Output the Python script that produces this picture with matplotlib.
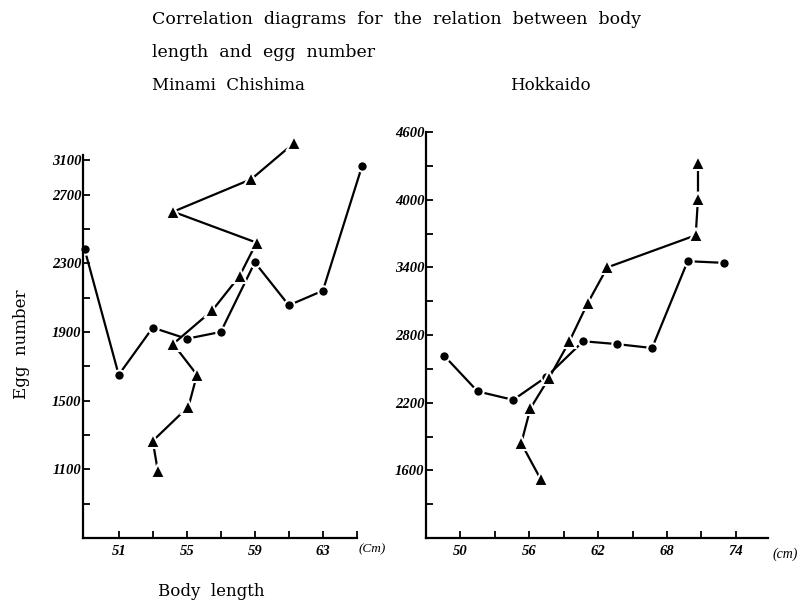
import matplotlib.pyplot as plt
from matplotlib.ticker import FixedLocator

# Minami Chishima (left panel)
mc_circle_len = [49, 51, 53, 55, 57, 59, 61, 63, 65.3]
mc_circle_egg = [2380, 1650, 1925, 1860, 1900, 2305, 2055, 2140, 2865]
mc_tri_len = [61.3, 58.8, 54.2, 59.1, 58.1, 56.5, 54.2, 55.6, 55.1, 53.0, 53.3]
mc_tri_egg = [3000, 2790, 2600, 2420, 2225, 2025, 1830, 1650, 1465, 1265, 1090]

# Hokkaido (right panel)
hk_circle_len = [48.6, 51.5, 54.6, 57.5, 60.7, 63.6, 66.7, 69.8, 73.0]
hk_circle_egg = [2615, 2300, 2225, 2430, 2745, 2720, 2685, 3455, 3440]
hk_tri_len = [57.0, 55.3, 56.1, 57.7, 59.5, 61.1, 62.8, 70.5, 70.7, 70.7]
hk_tri_egg = [1520, 1840, 2150, 2415, 2745, 3085, 3400, 3685, 4010, 4330]

# axis ticks / labels as printed
mc_xticks = [51, 53, 55, 57, 59, 61, 63, 65]
mc_xlabels = ['51', '', '55', '', '59', '', '63', '']
mc_yticks = [900, 1100, 1300, 1500, 1700, 1900, 2100, 2300, 2500, 2700, 2900]
mc_ylabels = ['', '1100', '', '1500', '', '1900', '', '2300', '', '2700', '3100']
hk_xticks = [50, 53, 56, 59, 62, 65, 68, 71, 74]
hk_xlabels = ['50', '', '56', '', '62', '', '68', '', '74']
hk_yticks = [1300, 1600, 1900, 2200, 2500, 2800, 3100, 3400, 3700, 4000, 4300, 4600]
hk_ylabels = ['', '1600', '', '2200', '', '2800', '', '3400', '', '4000', '', '4600']

plt.rcParams['font.family'] = 'DejaVu Serif'

fig = plt.figure(figsize=(8.08, 6.04), dpi=100)
ax1 = fig.add_axes([0.1027, 0.1093, 0.339, 0.634])
ax2 = fig.add_axes([0.5272, 0.1093, 0.4233, 0.672])


def draw(ax, cx, cy, tx, ty):
    ax.plot(cx, cy, color='black', lw=1.6, marker='o', ms=7.5,
            mec='white', mew=1.5, clip_on=False)
    ax.plot(tx, ty, color='black', lw=1.6, marker='^', ms=10,
            mec='white', mew=1.5, clip_on=False)


def style(ax, xt, xl, yt, yl):
    for s in ['top', 'right']:
        ax.spines[s].set_visible(False)
    for s in ['left', 'bottom']:
        ax.spines[s].set_linewidth(1.6)
    ax.xaxis.set_major_locator(FixedLocator(xt))
    ax.set_xticklabels(xl)
    ax.yaxis.set_major_locator(FixedLocator(yt))
    ax.set_yticklabels(yl)
    ax.tick_params(axis='x', direction='in', length=5, width=1.3, pad=5)
    ax.tick_params(axis='y', direction='in', length=5, width=1.3, pad=1)
    for lab in ax.get_xticklabels() + ax.get_yticklabels():
        lab.set_family('Liberation Serif')
        lab.set_fontstyle('italic')
        lab.set_fontweight('bold')
        lab.set_fontsize(10.5)


draw(ax1, mc_circle_len, mc_circle_egg, mc_tri_len, mc_tri_egg)
ax1.set_xlim(48.9, 65)
ax1.set_ylim(700, 2930)
style(ax1, mc_xticks, mc_xlabels, mc_yticks, mc_ylabels)

draw(ax2, hk_circle_len, hk_circle_egg, hk_tri_len, hk_tri_egg)
ax2.set_xlim(47, 76.8)
ax2.set_ylim(1000, 4600)
style(ax2, hk_xticks, hk_xlabels, hk_yticks, hk_ylabels)

fs = 12.5
fig.text(0.1881, 0.968, 'Correlation  diagrams  for  the  relation  between  body',
         fontsize=fs, va='center', ha='left')
fig.text(0.1881, 0.913, 'length  and  egg  number', fontsize=fs, va='center', ha='left')
fig.text(0.1881, 0.858, 'Minami  Chishima', fontsize=12, va='center', ha='left')
fig.text(0.631, 0.858, 'Hokkaido', fontsize=12, va='center', ha='left')
fig.text(0.027, 0.43, 'Egg  number', fontsize=12, va='center', ha='center',
         rotation=90)
fig.text(0.262, 0.020, 'Body  length', fontsize=12, va='center', ha='center')
fig.text(0.460, 0.090, '(Cm)', fontsize=9.5, family='Liberation Serif',
         style='italic', va='center', ha='center')
fig.text(0.972, 0.083, '(cm)', fontsize=10, family='Liberation Serif',
         style='italic', va='center', ha='center')

fig.savefig('out.png', dpi=100)
